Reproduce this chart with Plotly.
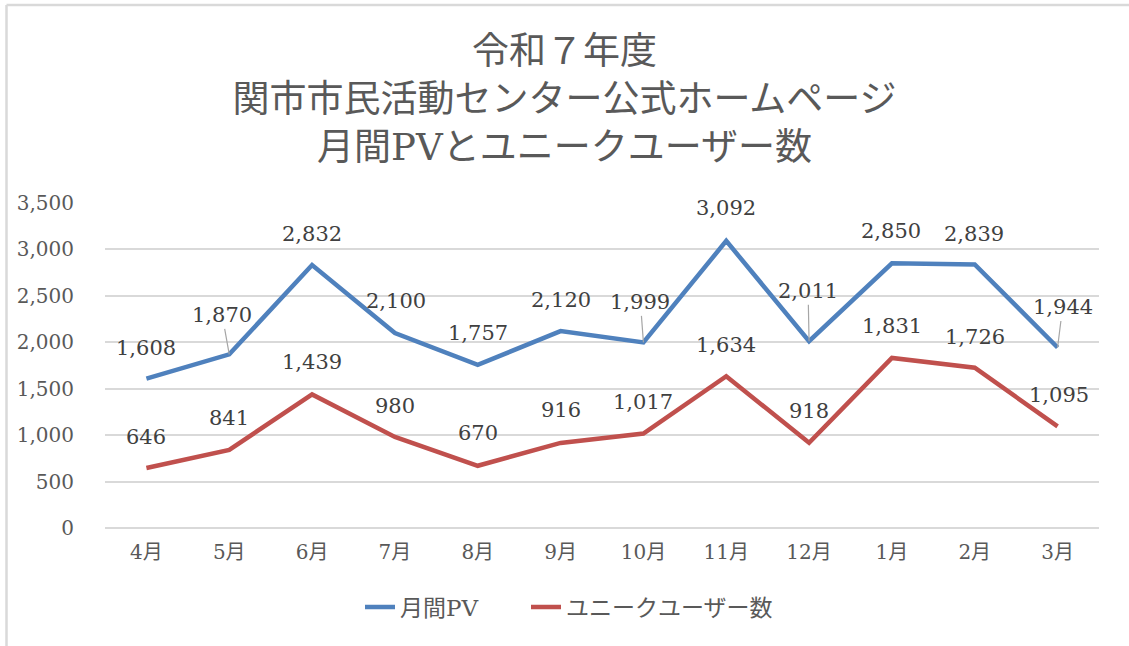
import plotly.graph_objects as go

months = ["4月", "5月", "6月", "7月", "8月", "9月", "10月", "11月", "12月", "1月", "2月", "3月"]
pv = [1608, 1870, 2832, 2100, 1757, 2120, 1999, 3092, 2011, 2850, 2839, 1944]
uv = [646, 841, 1439, 980, 670, 916, 1017, 1634, 918, 1831, 1726, 1095]
y_ticks = [0, 500, 1000, 1500, 2000, 2500, 3000, 3500]

title_lines = ["令和７年度", "関市市民活動センター公式ホームページ", "月間PVとユニークユーザー数"]
name_pv = "月間PV"
name_uv = "ユニークユーザー数"

# label placement styles (pixel offsets from point to label centre, leader flag)
pv_label_style = [(0, -31, False), (-7, -39, True), (0, -31, False), (1, -32, False),
                  (0, -32, False), (0, -31, False), (-3, -40, True), (0, -33, False),
                  (-1, -50, True), (-1, -32, False), (-1, -30, False), (5, -40, True)]
uv_label_style = [(0, -31, False), (0, -32, False), (0, -32, False), (0, -31, False),
                  (0, -33, False), (0, -33, False), (0, -32, False), (0, -31, False),
                  (0, -32, False), (0, -32, False), (0, -31, False), (1, -31, False)]

FONT = "DejaVu Serif, Noto Sans CJK JP, sans-serif"
BLUE = "#4F81BD"
RED = "#C0504D"

fig = go.Figure()
fig.add_trace(go.Scatter(x=months, y=pv, mode="lines", name=name_pv, legend="legend",
                         line=dict(color=BLUE, width=4.5)))
fig.add_trace(go.Scatter(x=months, y=uv, mode="lines", name=name_uv, legend="legend2",
                         line=dict(color=RED, width=4.5)))

annotations = []
for series, styles in ((pv, pv_label_style), (uv, uv_label_style)):
    for m, v, (dx, dy, leader) in zip(months, series, styles):
        txt = f"{v:,}"
        if leader:
            annotations.append(dict(x=m, y=v, xref="x", yref="y", text=txt,
                                    showarrow=True, ax=dx, ay=dy, arrowhead=0,
                                    arrowwidth=1.2, arrowcolor="#A6A6A6", standoff=0,
                                    font=dict(family=FONT, size=21, color="#404040")))
        else:
            annotations.append(dict(x=m, y=v, xref="x", yref="y", text=txt,
                                    showarrow=False, xshift=dx, yshift=-dy,
                                    font=dict(family=FONT, size=21, color="#404040")))

legend_style = dict(orientation="h", xanchor="left", yanchor="middle", y=-0.243,
                    font=dict(family=FONT, size=23, color="#595959"),
                    bgcolor="rgba(0,0,0,0)")

fig.update_layout(
    width=1129, height=646,
    margin=dict(l=105, r=30, t=203, b=118),
    paper_bgcolor="white", plot_bgcolor="white",
    title=dict(text="<br>".join(title_lines), x=0.5, xanchor="center",
               y=1 - 64 / 646, yanchor="middle", yref="container",
               font=dict(family=FONT, size=37, color="#595959")),
    font=dict(family=FONT, size=20, color="#595959"),
    showlegend=True,
    legend=dict(legend_style, x=(360 - 105) / 994),
    legend2=dict(legend_style, x=(526 - 105) / 994),
    annotations=annotations,
    xaxis=dict(range=[-0.5, 11.5], showgrid=False, showline=False, zeroline=False,
               ticks="", tickfont=dict(family=FONT, size=20, color="#595959"),
               ticklabelstandoff=10, fixedrange=True),
    yaxis=dict(range=[0, 3500], tickvals=y_ticks, tickformat=",",
               showgrid=True, gridcolor="#D9D9D9", gridwidth=1.5,
               zeroline=True, zerolinecolor="#D9D9D9", zerolinewidth=1.5,
               showline=False, ticks="",
               tickfont=dict(family=FONT, size=20, color="#595959"),
               ticklabelstandoff=30, fixedrange=True),
    shapes=[
        dict(type="line", xref="paper", yref="paper",
             x0=(6.5 - 105) / 994, x1=(6.5 - 105) / 994,
             y0=(528 - 5) / 325, y1=(528 - 650) / 325,
             line=dict(color="#D9D9D9", width=2.5)),
        dict(type="line", xref="paper", yref="paper",
             x0=(6.5 - 105) / 994, x1=(1135 - 105) / 994,
             y0=(528 - 5) / 325, y1=(528 - 5) / 325,
             line=dict(color="#D9D9D9", width=2.5)),
    ],
)

fig.write_html("out.html", config={"displayModeBar": False},
               post_script="document.body.style.margin='0';document.body.style.overflow='hidden';")
